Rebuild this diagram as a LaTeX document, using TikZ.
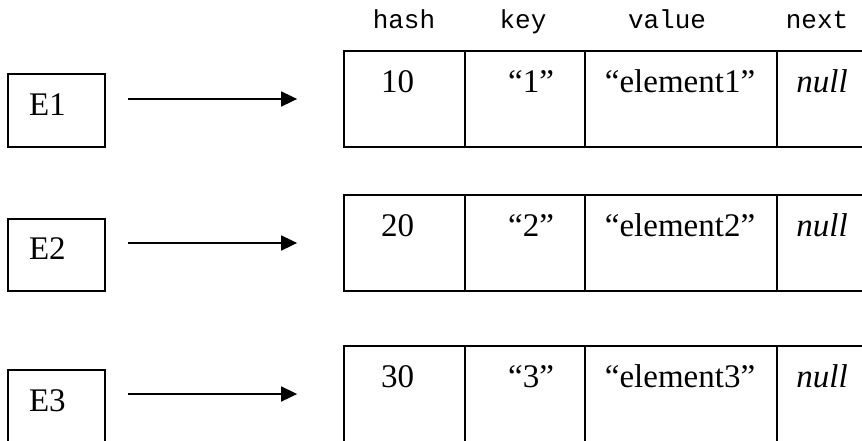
\documentclass[tikz,border=0pt]{standalone}
\usepackage{fontspec}
\setmainfont{Liberation Serif}
\setmonofont{Liberation Mono}
\usetikzlibrary{arrows.meta}
\begin{document}
\begin{tikzpicture}[x=1pt,y=-1pt,
  boxline/.style={line width=1.8pt},
  ebox/.style={draw, boxline, minimum width=97pt, text width=55pt, inner xsep=21pt,
    inner ysep=0pt, align=left, text height=22pt, text depth=13pt,
    font=\fontsize{33}{40}\selectfont},
  cell/.style={draw, boxline, inner sep=0pt},
  txt/.style={anchor=base, inner sep=0pt, font=\fontsize{33}{40}\selectfont},
  hdr/.style={anchor=base, inner sep=0pt, font=\fontsize{26}{30}\selectfont\ttfamily},
  arr/.style={line width=1.8pt, -{Triangle[length=16pt,width=15pt]}}]
\useasboundingbox (0,0) rectangle (862,440);

% column headers
\node[hdr] (hhash)  at (404,28) {hash};
\node[hdr] (hkey)   at (523,28) {key};
\node[hdr] (hvalue) at (667,28) {value};
\node[hdr] (hnext)  at (817,28) {next};

\foreach \r/\ey/\eh/\ty/\ch/\num in {1/110.5/73/99/96/10, 2/255/72/243/96/20, 3/406.5/73/394/96/30} {
  \node[ebox, minimum height=\eh pt] (e\r) at (56.5,\ey) {E\r};
  \node[cell, minimum width=121pt, minimum height=\ch pt] (h\r) at (404.5,\ty) {};
  \node[cell, minimum width=120pt, minimum height=\ch pt] (k\r) at (525,\ty) {};
  \node[cell, minimum width=192pt, minimum height=\ch pt] (v\r) at (681,\ty) {};
  \node[minimum width=90pt, minimum height=\ch pt, inner sep=0pt] (n\r) at (822,\ty) {};
  \draw[boxline] (n\r.north west) -- (n\r.north east) (n\r.south west) -- (n\r.south east);
  \node[txt] (th\r) at (397.5,\ty-7) {\num};
  \node[txt] (tk\r) at (531,\ty-7) {“\r”};
  \node[txt] (tv\r) at (680,\ty-7) {“element\r”};
  \node[txt] (tn\r) at (822,\ty-7) {\itshape null};
  \draw[arr, shorten <=22pt, shorten >=46pt] (e\r.east |- h\r.west) -- (h\r.west);
}
\end{tikzpicture}
\end{document}
